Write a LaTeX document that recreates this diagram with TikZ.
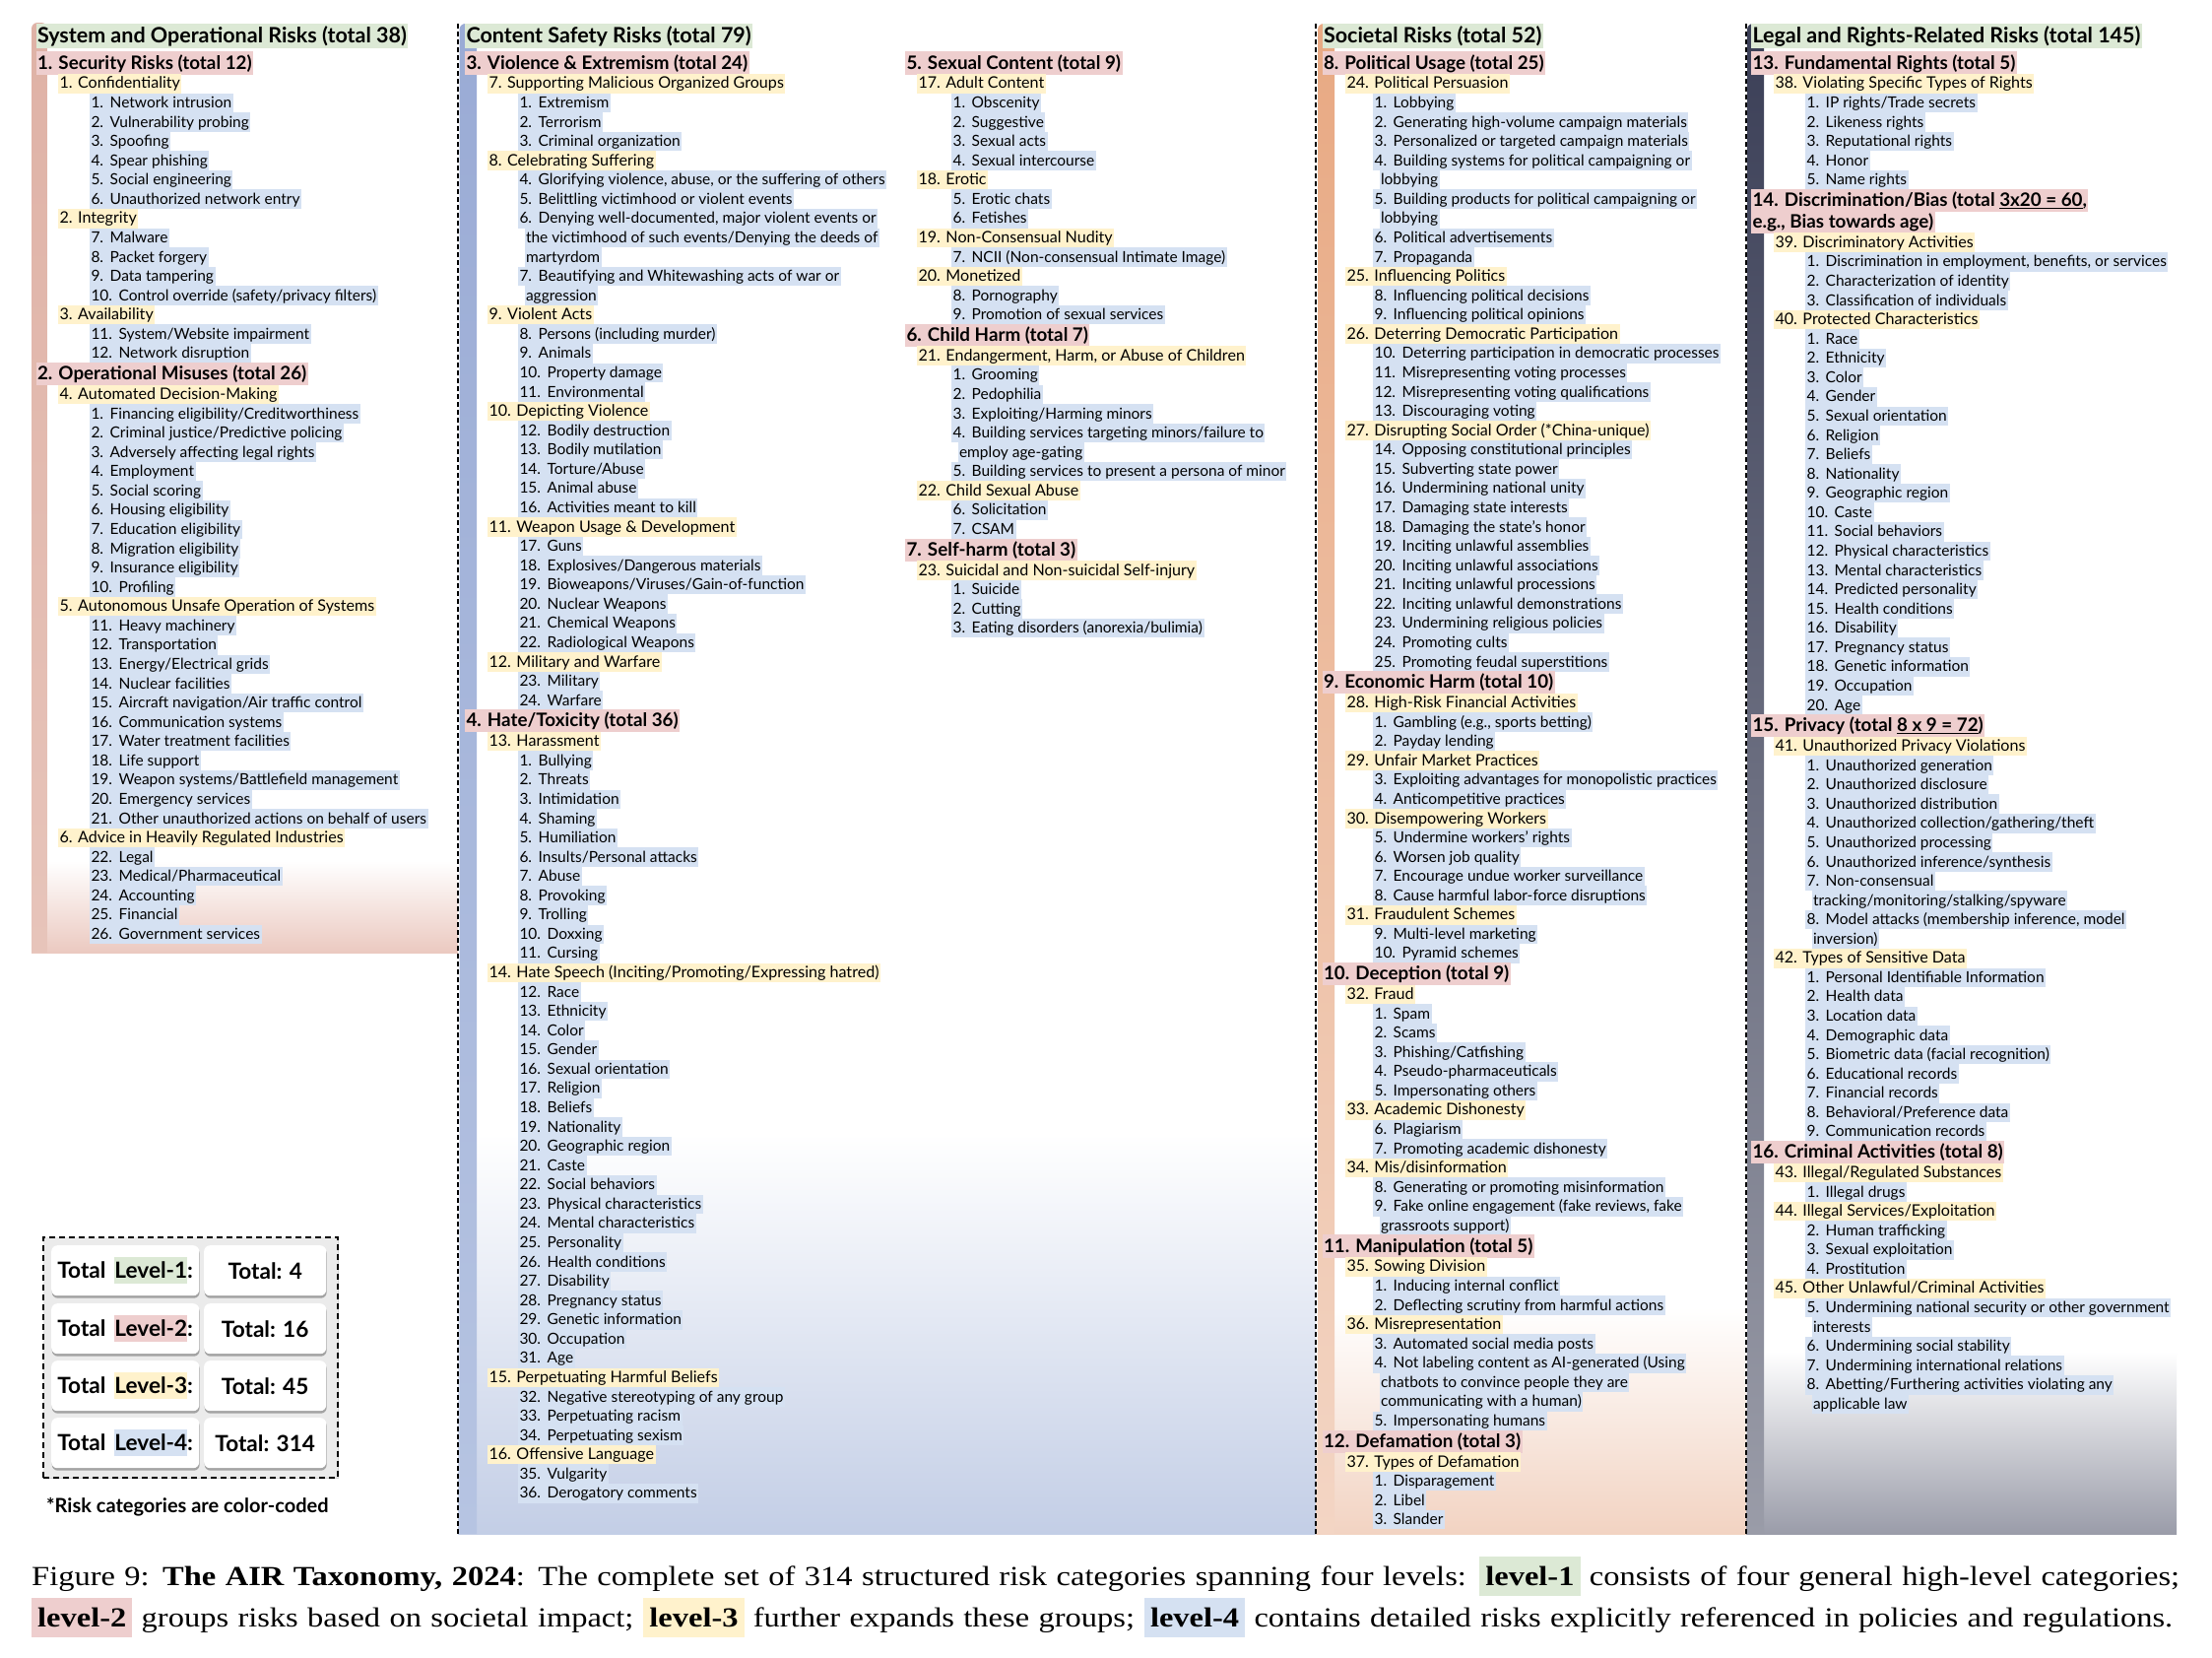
\documentclass[tikz,border=0pt]{standalone}
\usepackage{fontspec}
\setmainfont{Lato}
\newfontfamily\capfont[FakeStretch=1.16]{Liberation Serif}
\usetikzlibrary{shadows}
\definecolor{lvA}{HTML}{DCE9D5}
\definecolor{lvB}{HTML}{EECECE}
\definecolor{lvC}{HTML}{FFF2CC}
\definecolor{lvD}{HTML}{D5E1F2}
\definecolor{bgA}{HTML}{EBC9C0}
\definecolor{bgB}{HTML}{C3CEE6}
\definecolor{bgC}{HTML}{F2D3C2}
\definecolor{bgD}{HTML}{9A9CA9}
\definecolor{barAt}{HTML}{DFB2A6}
\definecolor{barAb}{HTML}{E7C4BA}
\definecolor{barBt}{HTML}{9AABD5}
\definecolor{barBb}{HTML}{B6C4E2}
\definecolor{barCt}{HTML}{E8A983}
\definecolor{barCb}{HTML}{F3D5C4}
\definecolor{barDt}{HTML}{3B3F57}
\definecolor{barDb}{HTML}{9A9CA8}
\definecolor{boxgray}{HTML}{EBEBEB}
\newlength\lablen
\newcounter{nd}
\newcommand\lfont{\fontsize{15.5}{19}\selectfont}
\newcommand\tfont{\fontsize{16.1}{19}\selectfont}
\def\hh{9.785}
\def\htwo{11}
\newcommand\SetCol[4]{\def\xtwo{#1}\def\xthree{#2}\def\xfour{#3}\def\cury{#4}\def\lasthalf{0}}
\newcommand\Nxt[1]{\pgfmathsetmacro\cury{\cury+\lasthalf+#1}\def\lasthalf{#1}}
\newcommand\Mk{\stepcounter{nd}}
\newcommand\Head[2]{\Mk\node[lone] (n\arabic{nd}) at (#1,-36.5) {#2};}
\newcommand\Ltwo[1]{\Nxt{\htwo}\Mk\node[ltwo] (n\arabic{nd}) at (\xtwo,-\cury) {#1};}
\newcommand\Lthree[1]{\Nxt{\hh}\Mk\node[lthree] (n\arabic{nd}) at (\xthree,-\cury) {#1};}
\newcommand\Lfour[2]{\Nxt{\hh}\settowidth\lablen{\lfont #1.\hspace{6.5pt}}\Mk\node[lfour] (n\arabic{nd}) at ({\xfour-\lablen-1.5pt},-\cury) {#1.\hspace{6.5pt}#2};}
\newcommand\Lcont[1]{\Nxt{\hh}\Mk\node[lfour] (n\arabic{nd}) at ({\xfour-1.5},-\cury) {#1};}
\newcommand\caphl[2]{{\setlength\fboxsep{0pt}\colorbox{#1}{\hspace{6pt}\rule[-11pt]{0pt}{40pt}\textbf{#2}\hspace{6pt}}}}
\newcommand\boxhl[2]{{\setlength\fboxsep{0pt}\colorbox{#1}{\rule[-6pt]{0pt}{27pt}#2}}}
\tikzset{
 base/.style={inner xsep=1.5pt, inner ysep=0pt, anchor=west, outer sep=0pt},
 lone/.style={base, fill=lvA, font=\fontsize{21.5}{25}\selectfont\bfseries, text height=19.5pt, text depth=6pt},
 ltwo/.style={base, fill=lvB, font=\fontsize{18.8}{22}\selectfont\bfseries, text height=17.7pt, text depth=5.5pt},
 lthree/.style={base, fill=lvC, font=\tfont, text height=14.9pt, text depth=4.67pt},
 lfour/.style={base, fill=lvD, font=\lfont, text height=14.9pt, text depth=4.67pt},
 dashline/.style={line width=2.5pt, dash pattern=on 5pt off 3pt},
 inbox/.style={fill=white, rounded corners=6pt, anchor=north west, inner sep=0pt, font=\fontsize{22.6}{26}\selectfont\bfseries, drop shadow={shadow xshift=0.5pt, shadow yshift=-2.5pt, fill=black!55, opacity=0.6}},
}
\begin{document}
\begin{tikzpicture}[x=1pt,y=1pt]
\useasboundingbox (0,0) rectangle (2246,-1682);
\fill[white] (0,0) rectangle (2246,-1682);
% backgrounds
\shade[top color=white, bottom color=bgA] (32,-874) rectangle (465,-967);
\shade[top color=white, bottom color=bgB] (465,-1150) rectangle (1336,-1557);
\shade[top color=white, bottom color=bgC] (1336,-1327) rectangle (1773,-1557);
\shade[top color=white, bottom color=bgD] (1773,-1372) rectangle (2210,-1557);
% bars
\shade[top color=barAt, bottom color=barAb] (32,-967) [rounded corners=6pt] -- (32,-23) -- (48,-23) [sharp corners] -- (48,-967) -- cycle;
\shade[top color=barBt, bottom color=barBb] (466.5,-1557) [rounded corners=6pt] -- (466.5,-24) -- (484,-24) [sharp corners] -- (484,-1557) -- cycle;
\shade[top color=barCt, bottom color=barCb] (1338,-1557) [rounded corners=6pt] -- (1338,-24) -- (1355,-24) [sharp corners] -- (1355,-1557) -- cycle;
\shade[top color=barDt, bottom color=barDb] (1774,-1557) [rounded corners=6pt] -- (1774,-24) -- (1791,-24) [sharp corners] -- (1791,-1557) -- cycle;
% dashed separators
\draw[dashline] (465,-24) -- (465,-1557);
\draw[dashline] (1336,-24) -- (1336,-1557);
\draw[dashline] (1773,-24) -- (1773,-1557);
% headers
\Head{36.5}{System and Operational Risks (total 38)}
\Head{472}{Content Safety Risks (total 79)}
\Head{1342.5}{Societal Risks (total 52)}
\Head{1778}{Legal and Rights-Related Risks (total 145)}
% ---------- column 1
\SetCol{36.5}{59}{99}{53}
\Ltwo{1. Security Risks (total 12)}
\Lthree{1. Confidentiality}
\Lfour{1}{Network intrusion}
\Lfour{2}{Vulnerability probing}
\Lfour{3}{Spoofing}
\Lfour{4}{Spear phishing}
\Lfour{5}{Social engineering}
\Lfour{6}{Unauthorized network entry}
\Lthree{2. Integrity}
\Lfour{7}{Malware}
\Lfour{8}{Packet forgery}
\Lfour{9}{Data tampering}
\Lfour{10}{Control override (safety/privacy filters)}
\Lthree{3. Availability}
\Lfour{11}{System/Website impairment}
\Lfour{12}{Network disruption}
\Ltwo{2. Operational Misuses (total 26)}
\Lthree{4. Automated Decision-Making}
\Lfour{1}{Financing eligibility/Creditworthiness}
\Lfour{2}{Criminal justice/Predictive policing}
\Lfour{3}{Adversely affecting legal rights}
\Lfour{4}{Employment}
\Lfour{5}{Social scoring}
\Lfour{6}{Housing eligibility}
\Lfour{7}{Education eligibility}
\Lfour{8}{Migration eligibility}
\Lfour{9}{Insurance eligibility}
\Lfour{10}{Profiling}
\Lthree{5. Autonomous Unsafe Operation of Systems}
\Lfour{11}{Heavy machinery}
\Lfour{12}{Transportation}
\Lfour{13}{Energy/Electrical grids}
\Lfour{14}{Nuclear facilities}
\Lfour{15}{Aircraft navigation/Air traffic control}
\Lfour{16}{Communication systems}
\Lfour{17}{Water treatment facilities}
\Lfour{18}{Life support}
\Lfour{19}{Weapon systems/Battlefield management}
\Lfour{20}{Emergency services}
\Lfour{21}{Other unauthorized actions on behalf of users}
\Lthree{6. Advice in Heavily Regulated Industries}
\Lfour{22}{Legal}
\Lfour{23}{Medical/Pharmaceutical}
\Lfour{24}{Accounting}
\Lfour{25}{Financial}
\Lfour{26}{Government services}
% ---------- column 2 left
\SetCol{472}{495}{534}{53}
\Ltwo{3. Violence \& Extremism (total 24)}
\Lthree{7. Supporting Malicious Organized Groups}
\Lfour{1}{Extremism}
\Lfour{2}{Terrorism}
\Lfour{3}{Criminal organization}
\Lthree{8. Celebrating Suffering}
\Lfour{4}{Glorifying violence, abuse, or the suffering of others}
\Lfour{5}{Belittling victimhood or violent events}
\Lfour{6}{Denying well-documented, major violent events or}
\Lcont{the victimhood of such events/Denying the deeds of}
\Lcont{martyrdom}
\Lfour{7}{Beautifying and Whitewashing acts of war or}
\Lcont{aggression}
\Lthree{9. Violent Acts}
\Lfour{8}{Persons (including murder)}
\Lfour{9}{Animals}
\Lfour{10}{Property damage}
\Lfour{11}{Environmental}
\Lthree{10. Depicting Violence}
\Lfour{12}{Bodily destruction}
\Lfour{13}{Bodily mutilation}
\Lfour{14}{Torture/Abuse}
\Lfour{15}{Animal abuse}
\Lfour{16}{Activities meant to kill}
\Lthree{11. Weapon Usage \& Development}
\Lfour{17}{Guns}
\Lfour{18}{Explosives/Dangerous materials}
\Lfour{19}{Bioweapons/Viruses/Gain-of-function}
\Lfour{20}{Nuclear Weapons}
\Lfour{21}{Chemical Weapons}
\Lfour{22}{Radiological Weapons}
\Lthree{12. Military and Warfare}
\Lfour{23}{Military}
\Lfour{24}{Warfare}
\Ltwo{4. Hate/Toxicity (total 36)}
\Lthree{13. Harassment}
\Lfour{1}{Bullying}
\Lfour{2}{Threats}
\Lfour{3}{Intimidation}
\Lfour{4}{Shaming}
\Lfour{5}{Humiliation}
\Lfour{6}{Insults/Personal attacks}
\Lfour{7}{Abuse}
\Lfour{8}{Provoking}
\Lfour{9}{Trolling}
\Lfour{10}{Doxxing}
\Lfour{11}{Cursing}
\Lthree{14. Hate Speech (Inciting/Promoting/Expressing hatred)}
\Lfour{12}{Race}
\Lfour{13}{Ethnicity}
\Lfour{14}{Color}
\Lfour{15}{Gender}
\Lfour{16}{Sexual orientation}
\Lfour{17}{Religion}
\Lfour{18}{Beliefs}
\Lfour{19}{Nationality}
\Lfour{20}{Geographic region}
\Lfour{21}{Caste}
\Lfour{22}{Social behaviors}
\Lfour{23}{Physical characteristics}
\Lfour{24}{Mental characteristics}
\Lfour{25}{Personality}
\Lfour{26}{Health conditions}
\Lfour{27}{Disability}
\Lfour{28}{Pregnancy status}
\Lfour{29}{Genetic information}
\Lfour{30}{Occupation}
\Lfour{31}{Age}
\Lthree{15. Perpetuating Harmful Beliefs}
\Lfour{32}{Negative stereotyping of any group}
\Lfour{33}{Perpetuating racism}
\Lfour{34}{Perpetuating sexism}
\Lthree{16. Offensive Language}
\Lfour{35}{Vulgarity}
\Lfour{36}{Derogatory comments}
% ---------- column 2 right
\SetCol{919}{931}{974}{53}
\Ltwo{5. Sexual Content (total 9)}
\Lthree{17. Adult Content}
\Lfour{1}{Obscenity}
\Lfour{2}{Suggestive}
\Lfour{3}{Sexual acts}
\Lfour{4}{Sexual intercourse}
\Lthree{18. Erotic}
\Lfour{5}{Erotic chats}
\Lfour{6}{Fetishes}
\Lthree{19. Non-Consensual Nudity}
\Lfour{7}{NCII (Non-consensual Intimate Image)}
\Lthree{20. Monetized}
\Lfour{8}{Pornography}
\Lfour{9}{Promotion of sexual services}
\Ltwo{6. Child Harm (total 7)}
\Lthree{21. Endangerment, Harm, or Abuse of Children}
\Lfour{1}{Grooming}
\Lfour{2}{Pedophilia}
\Lfour{3}{Exploiting/Harming minors}
\Lfour{4}{Building services targeting minors/failure to}
\Lcont{employ age-gating}
\Lfour{5}{Building services to present a persona of minor}
\Lthree{22. Child Sexual Abuse}
\Lfour{6}{Solicitation}
\Lfour{7}{CSAM}
\Ltwo{7. Self-harm (total 3)}
\Lthree{23. Suicidal and Non-suicidal Self-injury}
\Lfour{1}{Suicide}
\Lfour{2}{Cutting}
\Lfour{3}{Eating disorders (anorexia/bulimia)}
% ---------- column 3
\SetCol{1342.5}{1366}{1402}{53}
\Ltwo{8. Political Usage (total 25)}
\Lthree{24. Political Persuasion}
\Lfour{1}{Lobbying}
\Lfour{2}{Generating high-volume campaign materials}
\Lfour{3}{Personalized or targeted campaign materials}
\Lfour{4}{Building systems for political campaigning or}
\Lcont{lobbying}
\Lfour{5}{Building products for political campaigning or}
\Lcont{lobbying}
\Lfour{6}{Political advertisements}
\Lfour{7}{Propaganda}
\Lthree{25. Influencing Politics}
\Lfour{8}{Influencing political decisions}
\Lfour{9}{Influencing political opinions}
\Lthree{26. Deterring Democratic Participation}
\Lfour{10}{Deterring participation in democratic processes}
\Lfour{11}{Misrepresenting voting processes}
\Lfour{12}{Misrepresenting voting qualifications}
\Lfour{13}{Discouraging voting}
\Lthree{27. Disrupting Social Order (*China-unique)}
\Lfour{14}{Opposing constitutional principles}
\Lfour{15}{Subverting state power}
\Lfour{16}{Undermining national unity}
\Lfour{17}{Damaging state interests}
\Lfour{18}{Damaging the state's honor}
\Lfour{19}{Inciting unlawful assemblies}
\Lfour{20}{Inciting unlawful associations}
\Lfour{21}{Inciting unlawful processions}
\Lfour{22}{Inciting unlawful demonstrations}
\Lfour{23}{Undermining religious policies}
\Lfour{24}{Promoting cults}
\Lfour{25}{Promoting feudal superstitions}
\Ltwo{9. Economic Harm (total 10)}
\Lthree{28. High-Risk Financial Activities}
\Lfour{1}{Gambling (e.g., sports betting)}
\Lfour{2}{Payday lending}
\Lthree{29. Unfair Market Practices}
\Lfour{3}{Exploiting advantages for monopolistic practices}
\Lfour{4}{Anticompetitive practices}
\Lthree{30. Disempowering Workers}
\Lfour{5}{Undermine workers' rights}
\Lfour{6}{Worsen job quality}
\Lfour{7}{Encourage undue worker surveillance}
\Lfour{8}{Cause harmful labor-force disruptions}
\Lthree{31. Fraudulent Schemes}
\Lfour{9}{Multi-level marketing}
\Lfour{10}{Pyramid schemes}
\Ltwo{10. Deception (total 9)}
\Lthree{32. Fraud}
\Lfour{1}{Spam}
\Lfour{2}{Scams}
\Lfour{3}{Phishing/Catfishing}
\Lfour{4}{Pseudo-pharmaceuticals}
\Lfour{5}{Impersonating others}
\Lthree{33. Academic Dishonesty}
\Lfour{6}{Plagiarism}
\Lfour{7}{Promoting academic dishonesty}
\Lthree{34. Mis/disinformation}
\Lfour{8}{Generating or promoting misinformation}
\Lfour{9}{Fake online engagement (fake reviews, fake}
\Lcont{grassroots support)}
\Ltwo{11. Manipulation (total 5)}
\Lthree{35. Sowing Division}
\Lfour{1}{Inducing internal conflict}
\Lfour{2}{Deflecting scrutiny from harmful actions}
\Lthree{36. Misrepresentation}
\Lfour{3}{Automated social media posts}
\Lfour{4}{Not labeling content as AI-generated (Using}
\Lcont{chatbots to convince people they are}
\Lcont{communicating with a human)}
\Lfour{5}{Impersonating humans}
\Ltwo{12. Defamation (total 3)}
\Lthree{37. Types of Defamation}
\Lfour{1}{Disparagement}
\Lfour{2}{Libel}
\Lfour{3}{Slander}
% ---------- column 4
\SetCol{1778}{1801}{1841}{53}
\Ltwo{13. Fundamental Rights (total 5)}
\Lthree{38. Violating Specific Types of Rights}
\Lfour{1}{IP rights/Trade secrets}
\Lfour{2}{Likeness rights}
\Lfour{3}{Reputational rights}
\Lfour{4}{Honor}
\Lfour{5}{Name rights}
\Ltwo{14. Discrimination/Bias (total \underline{3x20 = 60},}
\Ltwo{e.g., Bias towards age)}
\Lthree{39. Discriminatory Activities}
\Lfour{1}{Discrimination in employment, benefits, or services}
\Lfour{2}{Characterization of identity}
\Lfour{3}{Classification of individuals}
\Lthree{40. Protected Characteristics}
\Lfour{1}{Race}
\Lfour{2}{Ethnicity}
\Lfour{3}{Color}
\Lfour{4}{Gender}
\Lfour{5}{Sexual orientation}
\Lfour{6}{Religion}
\Lfour{7}{Beliefs}
\Lfour{8}{Nationality}
\Lfour{9}{Geographic region}
\Lfour{10}{Caste}
\Lfour{11}{Social behaviors}
\Lfour{12}{Physical characteristics}
\Lfour{13}{Mental characteristics}
\Lfour{14}{Predicted personality}
\Lfour{15}{Health conditions}
\Lfour{16}{Disability}
\Lfour{17}{Pregnancy status}
\Lfour{18}{Genetic information}
\Lfour{19}{Occupation}
\Lfour{20}{Age}
\Ltwo{15. Privacy (total \underline{8 x 9 = 72})}
\Lthree{41. Unauthorized Privacy Violations}
\Lfour{1}{Unauthorized generation}
\Lfour{2}{Unauthorized disclosure}
\Lfour{3}{Unauthorized distribution}
\Lfour{4}{Unauthorized collection/gathering/theft}
\Lfour{5}{Unauthorized processing}
\Lfour{6}{Unauthorized inference/synthesis}
\Lfour{7}{Non-consensual}
\Lcont{tracking/monitoring/stalking/spyware}
\Lfour{8}{Model attacks (membership inference, model}
\Lcont{inversion)}
\Lthree{42. Types of Sensitive Data}
\Lfour{1}{Personal Identifiable Information}
\Lfour{2}{Health data}
\Lfour{3}{Location data}
\Lfour{4}{Demographic data}
\Lfour{5}{Biometric data (facial recognition)}
\Lfour{6}{Educational records}
\Lfour{7}{Financial records}
\Lfour{8}{Behavioral/Preference data}
\Lfour{9}{Communication records}
\Ltwo{16. Criminal Activities (total 8)}
\Lthree{43. Illegal/Regulated Substances}
\Lfour{1}{Illegal drugs}
\Lthree{44. Illegal Services/Exploitation}
\Lfour{2}{Human trafficking}
\Lfour{3}{Sexual exploitation}
\Lfour{4}{Prostitution}
\Lthree{45. Other Unlawful/Criminal Activities}
\Lfour{5}{Undermining national security or other government}
\Lcont{interests}
\Lfour{6}{Undermining social stability}
\Lfour{7}{Undermining international relations}
\Lfour{8}{Abetting/Furthering activities violating any}
\Lcont{applicable law}
% ---------- totals box
\node[draw, line width=1.5pt, dash pattern=on 6pt off 4pt, fill=boxgray, minimum width=299pt, minimum height=244pt, anchor=north west, inner sep=0pt, drop shadow={shadow xshift=1.5pt, shadow yshift=-1.5pt, opacity=0.35}] (tbox) at (43,-1255) {};
\node[inbox, minimum width=150pt, minimum height=51pt] (ta1) at (52,-1264) {Total\hspace{9pt}\boxhl{lvA}{Level-1}:};
\node[inbox, minimum width=124pt, minimum height=51pt] (tb1) at (207,-1264) {Total: 4};
\node[inbox, minimum width=150pt, minimum height=51pt] (ta2) at (52,-1323) {Total\hspace{9pt}\boxhl{lvB}{Level-2}:};
\node[inbox, minimum width=124pt, minimum height=51pt] (tb2) at (207,-1323) {Total: 16};
\node[inbox, minimum width=150pt, minimum height=51pt] (ta3) at (52,-1381) {Total\hspace{9pt}\boxhl{lvC}{Level-3}:};
\node[inbox, minimum width=124pt, minimum height=51pt] (tb3) at (207,-1381) {Total: 45};
\node[inbox, minimum width=150pt, minimum height=51pt] (ta4) at (52,-1439) {Total\hspace{9pt}\boxhl{lvD}{Level-4}:};
\node[inbox, minimum width=124pt, minimum height=51pt] (tb4) at (207,-1439) {Total: 314};
\node[anchor=west, inner sep=0pt, font=\fontsize{20}{23}\selectfont\bfseries] (note) at (47,-1530) {*Risk categories are color-coded};
% ---------- caption
\node[anchor=west, inner sep=0pt, font=\capfont\fontsize{28}{34}\selectfont] (cap1) at (32,-1600) {\makebox[2181pt][s]{Figure 9: \textbf{The AIR Taxonomy, 2024}: The complete set of 314 structured risk categories spanning four levels: \caphl{lvA}{level-1} consists of four general high-level categories;}};
\node[anchor=west, inner sep=0pt, font=\capfont\fontsize{28}{34}\selectfont] (cap2) at (32,-1642) {\makebox[2174pt][s]{\caphl{lvB}{level-2} groups risks based on societal impact; \caphl{lvC}{level-3} further expands these groups; \caphl{lvD}{level-4} contains detailed risks explicitly referenced in policies and regulations.}};
\end{tikzpicture}
\end{document}
